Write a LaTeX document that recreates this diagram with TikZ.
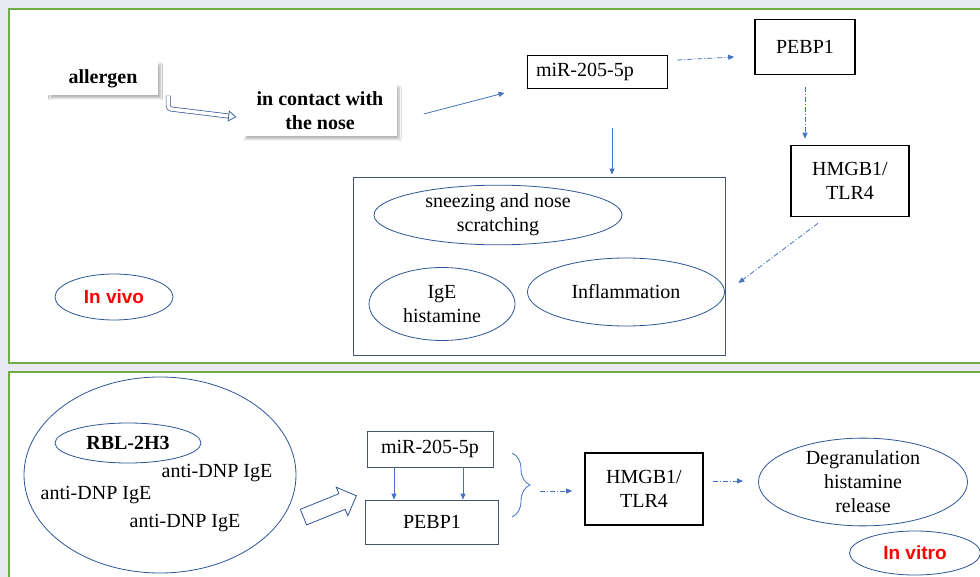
\documentclass[tikz,border=0pt]{standalone}
\usepackage{fontspec}
\setmainfont{Liberation Serif}
\newfontfamily\labelsans{Liberation Sans}
\usetikzlibrary{arrows.meta,shapes.geometric,shapes.arrows,shadows.blur,decorations.pathreplacing}
\definecolor{panelgreen}{HTML}{70AD47}
\definecolor{edgeblue}{HTML}{2F5597}
\definecolor{arrowblue}{HTML}{4472C4}
\definecolor{pagebg}{HTML}{E8E9F3}
\definecolor{boxgrey}{HTML}{44546A}
\definecolor{vivored}{HTML}{FF0000}
\begin{document}
\begin{tikzpicture}[x=1pt,y=-1pt,
  font=\fontsize{20}{24}\selectfont,
  flow/.style={-{Triangle[length=6pt,width=5pt]},arrowblue,line width=0.8pt},
  dotflow/.style={flow,dash pattern=on 5pt off 2pt on 1pt off 2pt},
  hollow/.style={draw=edgeblue,line width=0.7pt,double=white,double distance=3.5pt,rounded corners=3pt,-{Triangle[open,length=8pt,width=11pt]}},
  shadowbox/.style={rectangle,fill=white,align=center,font=\fontsize{20}{24}\selectfont\bfseries,
    blur shadow={shadow xshift=2.5pt,shadow yshift=-2.5pt,shadow blur radius=2pt,shadow blur steps=6,shadow opacity=30}},
  plainbox/.style={rectangle,draw,line width=0.8pt,inner sep=0pt},
  heavybox/.style={rectangle,draw,line width=1.6pt,inner sep=0pt,align=center},
  oval/.style={ellipse,draw=edgeblue,line width=0.8pt,inner sep=0pt,align=center},
  tag/.style={oval,text=vivored,font=\labelsans\fontsize{19}{22}\selectfont\bfseries},
  panel/.style={draw=panelgreen,line width=2pt,fill=white}]

  \useasboundingbox (0,0) rectangle (980,577);
  \clip (0,0) rectangle (980,577);
  \fill[pagebg] (0,0) rectangle (980,577);
  \draw[panel] (9,9) rectangle (995,363);
  \draw[panel] (9,372) rectangle (995,595);

  % in vivo
  \node[shadowbox,minimum width=110pt,minimum height=33pt] (allergen) at (103,79) {allergen};
  \node[shadowbox,minimum width=153pt,minimum height=51pt] (contact) at (320,111) {in contact with\\the nose};
  \node[plainbox,text width=122pt,inner xsep=9pt,align=left,minimum height=33pt] (mirtop) at (597,72) {miR-205-5p};
  \node[heavybox,minimum width=100pt,minimum height=55pt] (pebptop) at (805,47) {PEBP1};
  \node[heavybox,minimum width=118pt,minimum height=71pt] (hmgbtop) at (850,181) {HMGB1/\\TLR4};
  \node[draw=boxgrey,line width=0.8pt,minimum width=372pt,minimum height=178pt] (symptoms) at (539,266) {};
  \node[oval,minimum width=248pt,minimum height=56pt] (sneeze) at (498,215) {sneezing and nose\\scratching};
  \node[oval,minimum width=146pt,minimum height=73pt] (ige) at (442,304) {IgE\\histamine};
  \node[oval,minimum width=197pt,minimum height=68pt] (inflam) at (626,292) {Inflammation};
  \node[tag,minimum width=118pt,minimum height=46pt] (invivo) at (114,297) {In vivo};

  \draw[hollow] ([xshift=10pt]allergen.south east) -- ++(0,13) -- ([xshift=-7pt,yshift=-6pt]contact.west);
  \draw[flow] ([xshift=27pt,yshift=-3pt]contact.east) -- ([xshift=-22pt,yshift=-4pt]mirtop.south west);
  \draw[dotflow] ([xshift=10pt,yshift=12pt]mirtop.east) -- ([xshift=-20pt,yshift=-10pt]pebptop.west);
  \draw[dotflow] ([yshift=-12pt]pebptop.south) -- ([xshift=-45pt,yshift=6pt]hmgbtop.north);
  \draw[dotflow] ([xshift=-32pt,yshift=-6pt]hmgbtop.south) -- ([xshift=13pt,yshift=-17pt]symptoms.east);
  \draw[flow] ([xshift=15pt,yshift=-39pt]mirtop.south) -- ([xshift=73pt,yshift=2pt]symptoms.north);

  % in vitro
  \node[oval,minimum width=272pt,minimum height=196pt] (cells) at (160,475) {};
  \node[oval,minimum width=146pt,minimum height=40pt,font=\fontsize{20}{24}\selectfont\bfseries] (rbl) at (128,443) {RBL-2H3};
  \node (igeone) at (217,473) {anti-DNP IgE};
  \node (igetwo) at (96,495) {anti-DNP IgE};
  \node (igethree) at (185,523) {anti-DNP IgE};
  \node[single arrow,draw=edgeblue,line width=0.8pt,minimum height=57pt,inner sep=8pt,
    single arrow head extend=7pt,single arrow head indent=0pt,rotate=22] (push) at (326,508) {};
  \node[plainbox,draw=boxgrey,minimum width=126pt,minimum height=36pt] (mirbot) at (430,449) {miR-205-5p};
  \node[plainbox,draw=boxgrey,minimum width=133pt,minimum height=44pt] (pebpbot) at (432,522) {PEBP1};
  \node[heavybox,minimum width=118pt,minimum height=72pt] (hmgbbot) at (644,489) {HMGB1/\\TLR4};
  \node[oval,minimum width=209pt,minimum height=81pt] (degran) at (863,482) {Degranulation\\histamine\\release};
  \node[tag,minimum width=131pt,minimum height=44pt] (invitro) at (915,553) {In vitro};

  \coordinate (bracetop) at (512,453);
  \coordinate (bracebot) at (512,517);
  \coordinate (bracetip) at (532,485);

  \draw[flow] ([xshift=-36pt]mirbot.south) -- ([xshift=-38pt]pebpbot.north);
  \draw[flow] ([xshift=33pt]mirbot.south) -- ([xshift=31pt]pebpbot.north);
  \draw[decorate,decoration={brace,amplitude=18pt},arrowblue,line width=0.8pt] (bracetop) -- (bracebot);
  \draw[dotflow] ([xshift=8pt,yshift=-6pt]bracetip) -- ([xshift=-12pt,yshift=-2pt]hmgbbot.west);
  \draw[dotflow] ([xshift=9pt,yshift=8pt]hmgbbot.east) -- ([xshift=-15pt,yshift=1pt]degran.west);

\end{tikzpicture}
\end{document}
